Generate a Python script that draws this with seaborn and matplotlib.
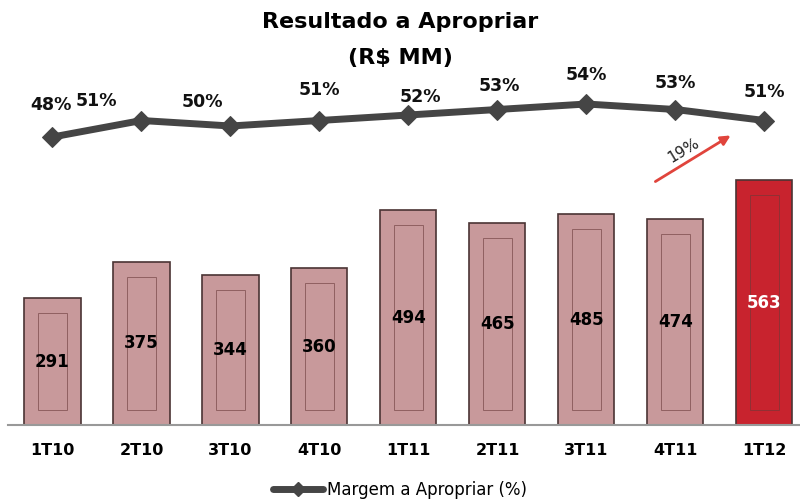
import numpy as np
import pandas as pd
import seaborn as sns
import matplotlib.pyplot as plt
from matplotlib.lines import Line2D

quarters = ["1T10", "2T10", "3T10", "4T10", "1T11", "2T11", "3T11", "4T11", "1T12"]
resultado = [291, 375, 344, 360, 494, 465, 485, 474, 563]
margem = [48, 51, 50, 51, 52, 53, 54, 53, 51]
growth_label = "19%"

# label nudges (pixels) for the margin labels, as in the original slide
lbl_dx = [-2, -45, -28, 0, 12, 2, 0, 0, 0]
lbl_dy = [32, 20, 24, 31, 18, 24, 29, 27, 29]

df = pd.DataFrame({"quarter": quarters, "resultado": resultado, "margem": margem})
df["pos"] = np.arange(len(df))

sns.set_style("white")
plt.rcParams["font.family"] = ["DejaVu Sans"]
plt.rcParams["text.color"] = "black"
plt.rcParams["xtick.color"] = "black"

fig = plt.figure(figsize=(8, 5.03), dpi=100)
ax = fig.add_axes([0.01, 78 / 503, 0.99, 365 / 503])

bar_colors = ["#c8999b"] * (len(df) - 1) + ["#c8232e"]
sns.barplot(data=df, x="quarter", y="resultado", hue="quarter", palette=bar_colors,
            saturation=1, width=0.63, edgecolor="#4a3434", linewidth=1.2,
            legend=False, ax=ax)

# inner frame of each bar
inset = 34
ax.bar(df["pos"], df["resultado"] - 2 * inset, bottom=inset, width=0.33,
       facecolor="none", edgecolor="#6a3a3a", linewidth=0.7, alpha=0.6)

for i, v in enumerate(resultado):
    ax.text(i, v / 2, str(v), ha="center", va="center", fontsize=12, fontweight="bold",
            color="white" if i == len(resultado) - 1 else "black")

ax.set_xlim(-0.5, 8.4)
ax.set_ylim(0, 365 / 0.435)
ax.set_xlabel("")
ax.set_ylabel("")
ax.set_yticks([])
ax.tick_params(axis="x", length=0, pad=13)
for t in ax.get_xticklabels():
    t.set_fontweight("bold")
    t.set_fontsize(11.5)
for s in ["top", "right", "left"]:
    ax.spines[s].set_visible(False)
ax.spines["bottom"].set_color("#999999")
ax.spines["bottom"].set_linewidth(1.5)

ax2 = ax.twinx()
sns.lineplot(data=df, x="pos", y="margem", color="#454545", linewidth=5,
             marker="D", markersize=10, markeredgecolor="#454545", ax=ax2)
ax2.set_ylim(48 - 288 / 5.5, 48 + 77 / 5.5)
ax2.set_yticks([])
ax2.set_ylabel("")
ax2.set_xlabel("")
for s in ax2.spines.values():
    s.set_visible(False)

for i, v in enumerate(margem):
    ax2.annotate(f"{v}%", (i, v), xytext=(lbl_dx[i], lbl_dy[i]), textcoords="offset pixels",
                 ha="center", va="center", fontsize=12.5, fontweight="bold", color="#111111")

# growth arrow
ax2.annotate("", xy=(733 / 800, 1 - 134 / 503), xytext=(653 / 800, 1 - 183 / 503),
             xycoords="figure fraction", textcoords="figure fraction",
             arrowprops=dict(arrowstyle="-|>", color="#e0443c", lw=2, mutation_scale=14))
fig.text(684 / 800, 1 - 150 / 503, growth_label, rotation=31, ha="center", va="center",
         fontsize=11, color="#222222")

fig.text(0.5, 1 - 22 / 503, "Resultado a Apropriar", ha="center", va="center",
         fontsize=16, fontweight="bold", color="black")
fig.text(0.5, 1 - 58 / 503, "(R$ MM)", ha="center", va="center",
         fontsize=16, fontweight="bold", color="black")

handle = Line2D([], [], color="#454545", linewidth=5, marker="D", markersize=7)
fig.legend([handle], ["Margem a Apropriar (%)"], loc="center", bbox_to_anchor=(0.5, 1 - 490 / 503),
           frameon=False, fontsize=12, handlelength=3, handletextpad=0.2)

fig.savefig("out.png", dpi=100)
